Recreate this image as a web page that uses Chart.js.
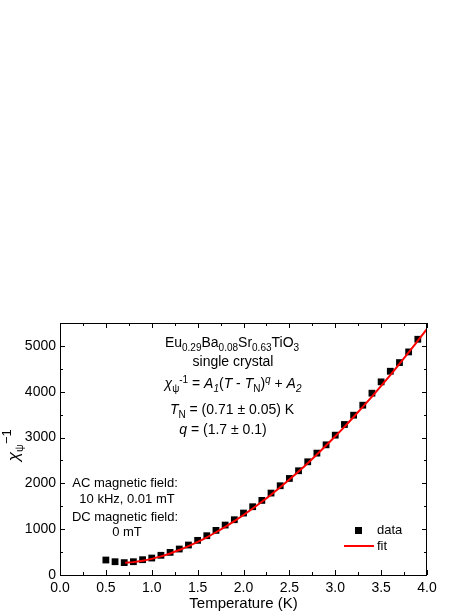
<!DOCTYPE html>
<html>
<head>
<meta charset="utf-8">
<script src="https://cdn.jsdelivr.net/npm/chart.js@4/dist/chart.umd.min.js"></script>
<style>
  body { margin: 0; background: #fff; }
  canvas { display: block; }
</style>
</head>
<body>
<canvas id="chiChart" width="474" height="614"></canvas>
<script>
// measured data: temperature (K) and inverse susceptibility
const dataT = [0.5, 0.6, 0.7, 0.8, 0.9, 1.0, 1.1, 1.2, 1.3, 1.4, 1.5, 1.6, 1.7, 1.8, 1.9,
  2.0, 2.1, 2.2, 2.3, 2.4, 2.5, 2.6, 2.7, 2.8, 2.9, 3.0, 3.1, 3.2, 3.3, 3.4, 3.5, 3.6, 3.7, 3.8, 3.9];
const dataChi = [327, 290, 270, 290, 334, 370, 430, 494, 567, 654, 756, 858, 974, 1090, 1206,
  1352, 1490, 1628, 1788, 1948, 2107, 2275, 2471, 2660, 2841, 3052, 3285, 3488, 3706, 3968, 4215, 4447, 4636, 4869, 5145];

// fit curve
const fitT = [0.71, 0.8, 0.9, 1.0, 1.1, 1.2, 1.3, 1.4, 1.5, 1.6, 1.7, 1.8, 1.9, 2.0, 2.1, 2.2, 2.3, 2.4,
  2.5, 2.6, 2.7, 2.8, 2.9, 3.0, 3.1, 3.2, 3.3, 3.4, 3.5, 3.6, 3.7, 3.8, 3.9, 4.0];
const fitChi = [270, 281, 310, 352, 406, 470, 545, 629, 722, 823, 933, 1050, 1176, 1309, 1450, 1598, 1753, 1915,
  2083, 2259, 2441, 2630, 2825, 3027, 3234, 3448, 3668, 3894, 4126, 4364, 4608, 4858, 5113, 5370];

const xTicks = [0, 0.5, 1.0, 1.5, 2.0, 2.5, 3.0, 3.5, 4.0];
const yTicks = [0, 1000, 2000, 3000, 4000, 5000];

const FONT = '"Liberation Sans", Arial, sans-serif';

// draw a line of mixed text: parts are [text, style] with style among
// '', 'i', 'sub', 'sup', 'isub', 'isup'
function drawRich(ctx, parts, cx, cy, size) {
  const small = Math.round(size * 0.72);
  const spec = parts.map(([t, s]) => {
    const italic = s.startsWith('i');
    const sub = s.endsWith('sub');
    const sup = s.endsWith('sup');
    const fs = sub || sup ? small : size;
    const font = (italic ? 'italic ' : '') + fs + 'px ' + FONT;
    const dy = sub ? size * 0.28 : sup ? -size * 0.38 : 0;
    ctx.font = font;
    return { t, font, dy, w: ctx.measureText(t).width };
  });
  const total = spec.reduce((a, p) => a + p.w, 0);
  let x = cx - total / 2;
  const base = cy + size * 0.36;
  ctx.textAlign = 'left';
  ctx.textBaseline = 'alphabetic';
  spec.forEach(p => {
    ctx.font = p.font;
    ctx.fillText(p.t, x, base + p.dy);
    x += p.w;
  });
}

const decorPlugin = {
  id: 'decor',
  afterDraw(chart) {
    const ctx = chart.ctx;
    const a = chart.chartArea;
    const xs = chart.scales.x, ys = chart.scales.y;
    ctx.save();
    ctx.strokeStyle = '#000';
    ctx.lineWidth = 1;
    // frame
    ctx.strokeRect(a.left + 0.5, a.top + 0.5, a.right - a.left - 1, a.bottom - a.top);
    // inward ticks on all sides
    ctx.beginPath();
    for (let v = 0; v <= 4.0001; v += 0.25) {
      const px = Math.round(xs.getPixelForValue(v)) + 0.5;
      const len = Math.abs(v * 2 - Math.round(v * 2)) < 1e-6 ? 5 : 3;
      ctx.moveTo(px, a.bottom); ctx.lineTo(px, a.bottom - len);
      ctx.moveTo(px, a.top); ctx.lineTo(px, a.top + len);
    }
    for (let v = 0; v <= 5500; v += 500) {
      const py = Math.round(ys.getPixelForValue(v)) + 0.5;
      const len = v % 1000 === 0 ? 5 : 3;
      ctx.moveTo(a.left, py); ctx.lineTo(a.left + len, py);
      ctx.moveTo(a.right, py); ctx.lineTo(a.right - len, py);
    }
    ctx.stroke();

    ctx.fillStyle = '#000';
    // annotations
    drawRich(ctx, [['Eu', ''], ['0.29', 'sub'], ['Ba', ''], ['0.08', 'sub'], ['Sr', ''], ['0.63', 'sub'], ['TiO', ''], ['3', 'sub']], 232, 342, 14);
    drawRich(ctx, [['single crystal', '']], 233, 361, 14);
    drawRich(ctx, [['\u03C7', 'i'], ['\u03C8', 'sub'], ['-1', 'sup'], [' = ', ''], ['A', 'i'], ['1', 'isub'], ['(', ''],
      ['T', 'i'], [' - ', ''], ['T', 'i'], ['N', 'sub'], [')', ''], ['q', 'isup'], [' + ', ''], ['A', 'i'], ['2', 'isub']], 233, 383, 14);
    drawRich(ctx, [['T', 'i'], ['N', 'sub'], [' = (0.71 \u00B1 0.05) K', '']], 232, 409, 14);
    drawRich(ctx, [['q', 'i'], [' = (1.7 \u00B1 0.1)', '']], 223, 429, 14);
    drawRich(ctx, [['AC magnetic field:', '']], 125, 482, 13);
    drawRich(ctx, [['10 kHz, 0.01 mT', '']], 127, 498, 13);
    drawRich(ctx, [['DC magnetic field:', '']], 125, 516, 13);
    drawRich(ctx, [['0 mT', '']], 127, 531, 13);

    // legend
    ctx.fillRect(355, 527, 7, 7);
    ctx.font = '13px ' + FONT;
    ctx.textAlign = 'left';
    ctx.textBaseline = 'middle';
    ctx.fillText('data', 377, 530);
    ctx.fillText('fit', 377, 546);
    ctx.strokeStyle = '#ff0000';
    ctx.lineWidth = 2;
    ctx.beginPath();
    ctx.moveTo(344, 546); ctx.lineTo(374, 546);
    ctx.stroke();

    // rotated y-axis title
    ctx.translate(19, 448);
    ctx.rotate(-Math.PI / 2);
    ctx.fillStyle = '#000';
    ctx.textBaseline = 'alphabetic';
    ctx.font = 'italic 17px ' + FONT;
    const wChi = ctx.measureText('\u03C7').width;
    ctx.fillText('\u03C7', -wChi - 4, 0);
    ctx.font = '11px ' + FONT;
    ctx.fillText('\u03C8', -4, 4);
    ctx.font = '13px ' + FONT;
    ctx.fillText('\u22121', 4, -8);
    ctx.restore();
  }
};

new Chart(document.getElementById('chiChart'), {
  type: 'scatter',
  data: {
    datasets: [
      {
        label: 'data',
        data: dataT.map((t, i) => ({ x: t, y: dataChi[i] })),
        pointStyle: 'rect',
        pointRadius: 4.8,
        backgroundColor: '#000',
        borderColor: '#000',
        borderWidth: 0,
        order: 1,
      },
      {
        label: 'fit',
        type: 'line',
        data: fitT.map((t, i) => ({ x: t, y: fitChi[i] })),
        borderColor: '#ff0000',
        borderWidth: 2,
        pointRadius: 0,
        tension: 0.4,
        cubicInterpolationMode: 'monotone',
        fill: false,
        order: 0,
      },
    ],
  },
  options: {
    responsive: false,
    animation: false,
    layout: { padding: { top: 323, right: 47, left: 0, bottom: 0 } },
    plugins: {
      legend: { display: false },
      tooltip: { enabled: false },
    },
    scales: {
      x: {
        type: 'linear',
        min: 0,
        max: 4,
        afterFit: s => { s.height = 39; },
        afterBuildTicks: s => { s.ticks = xTicks.map(v => ({ value: v })); },
        grid: { display: false, drawTicks: false },
        border: { display: false },
        ticks: {
          color: '#000',
          padding: 5,
          font: { family: FONT, size: 14 },
          callback: v => v.toFixed(1),
        },
        title: {
          display: true,
          text: 'Temperature (K)',
          color: '#000',
          font: { family: FONT, size: 15 },
          padding: { top: 0, bottom: 1 },
        },
      },
      y: {
        min: 0,
        max: 5500,
        afterFit: s => { s.width = 60; },
        afterBuildTicks: s => { s.ticks = yTicks.map(v => ({ value: v })); },
        grid: { display: false, drawTicks: false },
        border: { display: false },
        ticks: {
          color: '#000',
          padding: 4,
          font: { family: FONT, size: 14 },
          callback: v => String(v),
        },
      },
    },
  },
  plugins: [decorPlugin],
});
</script>
</body>
</html>
